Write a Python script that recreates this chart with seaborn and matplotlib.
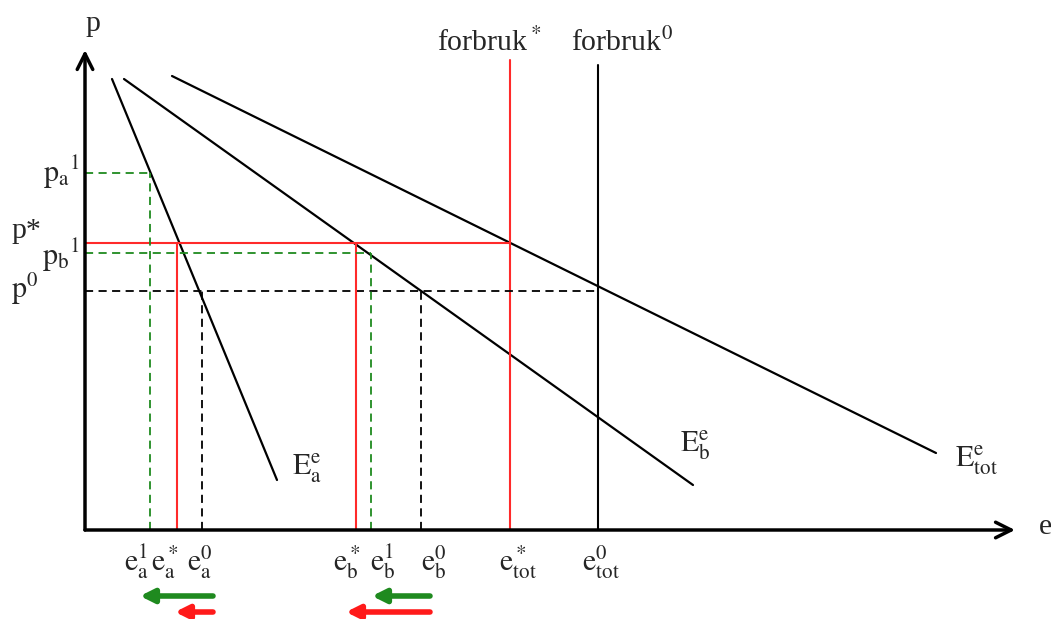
import numpy as np
import pandas as pd
import matplotlib
matplotlib.use('Agg')
import matplotlib.pyplot as plt
import seaborn as sns

# emission demand curves, (e, p) endpoints
curve_names = ['E_a', 'E_b', 'E_tot']
curve_e = [[2.7, 19.2], [3.9, 60.8], [8.7, 85.1]]
curve_p = [[45.1, 5.0], [45.1, 4.5], [45.4, 7.7]]
curve_labels = [r'$\mathrm{E^e_a}$', r'$\mathrm{E^e_b}$', r'$\mathrm{E^e_{tot}}$']

# price levels
p0 = 23.9
p_star = 28.7
pa1 = 35.7
pb1 = 27.7

# emission quantities
e0_a, e_star_a, e1_a = 11.7, 9.2, 6.5
e0_b, e_star_b, e1_b = 33.6, 27.1, 28.6
e0_tot, e_star_tot = 51.3, 42.5

e_tick_vals = [e1_a, e_star_a, e0_a, e_star_b, e1_b, e0_b, e_star_tot, e0_tot]
e_tick_labels = [r'$\mathrm{e^1_a}$', r'$\mathrm{e^*_a}$', r'$\mathrm{e^0_a}$',
                 r'$\mathrm{e^*_b}$', r'$\mathrm{e^1_b}$', r'$\mathrm{e^0_b}$',
                 r'$\mathrm{e^*_{tot}}$', r'$\mathrm{e^0_{tot}}$']

sns.set_theme(style='white')
plt.rcParams['font.family'] = ['Liberation Serif', 'DejaVu Serif']
plt.rcParams['mathtext.fontset'] = 'stix'

fig = plt.figure(figsize=(10.51, 6.19), dpi=100)
ax = fig.add_axes([0, 0, 1, 1])
ax.set_xlim(-8.5, 96.6)
ax.set_ylim(-8.9, 53.0)
ax.axis('off')

df = pd.DataFrame({
    'e': np.concatenate(curve_e),
    'p': np.concatenate(curve_p),
    'curve': np.repeat(curve_names, 2),
})
sns.lineplot(data=df, x='e', y='p', units='curve', estimator=None, sort=False,
             color='black', lw=1.6, ax=ax, legend=False)

fs = 21.5

# axes with arrows
ax.annotate('', xy=(93.0, 0), xytext=(0, 0),
            arrowprops=dict(arrowstyle='->', lw=2.5, color='black', mutation_scale=28, shrinkA=0, shrinkB=0))
ax.annotate('', xy=(0, 48.0), xytext=(0, 0),
            arrowprops=dict(arrowstyle='->', lw=2.5, color='black', mutation_scale=28, shrinkA=0, shrinkB=0))
ax.text(0.8, 50.6, 'p', fontsize=fs, ha='center', va='center')
ax.text(96.0, 0.3, 'e', fontsize=fs, ha='center', va='center')

# consumption lines
ax.plot([e_star_tot, e_star_tot], [0, 47.0], color='#ff2a2a', lw=1.5)
ax.plot([e0_tot, e0_tot], [0, 46.5], color='black', lw=1.5)
ax.text(e_star_tot - 2.1, 48.7, r'forbruk$^*$', fontsize=fs, ha='center', va='center')
ax.text(e0_tot + 2.4, 48.7, r'forbruk$^0$', fontsize=fs, ha='center', va='center')

# initial equilibrium (black dashed)
dash = (0, (4.5, 3))
ax.plot([0, e0_tot], [p0, p0], color='black', lw=1.3, linestyle=dash)
for ev in [e0_a, e0_b]:
    ax.plot([ev, ev], [0, p0], color='black', lw=1.3, linestyle=dash)

# new equilibrium (red)
ax.plot([0, e_star_tot], [p_star, p_star], color='#ff2a2a', lw=1.5)
for ev in [e_star_a, e_star_b]:
    ax.plot([ev, ev], [0, p_star], color='#ff2a2a', lw=1.5)

# green dashed
green = '#1f8a1f'
ax.plot([0, e1_a], [pa1, pa1], color=green, lw=1.3, linestyle=dash)
ax.plot([e1_a, e1_a], [0, pa1], color=green, lw=1.3, linestyle=dash)
ax.plot([0, e1_b], [pb1, pb1], color=green, lw=1.3, linestyle=dash)
ax.plot([e1_b, e1_b], [0, pb1], color=green, lw=1.3, linestyle=dash)

# price labels
ax.text(-0.5, pa1 + 0.1, r'$\mathrm{p_a{}^1}$', fontsize=fs, ha='right', va='center')
ax.text(-7.4, p_star + 1.2, 'p*', fontsize=fs, ha='left', va='center')
ax.text(-0.5, pb1 - 0.2, r'$\mathrm{p_b{}^1}$', fontsize=fs, ha='right', va='center')
ax.text(-7.4, p0 + 0.2, r'$\mathrm{p^0}$', fontsize=fs, ha='left', va='center')

# quantity labels
label_shift = [-1.3, -1.2, -0.2, -0.9, 1.2, 1.3, 0.8, 0.3]
for ev, lab, sh in zip(e_tick_vals, e_tick_labels, label_shift):
    ax.text(ev + sh, -3.2, lab, fontsize=fs, ha='center', va='center')

# curve labels
ax.text(20.7, 6.2, curve_labels[0], fontsize=fs, ha='left', va='center')
ax.text(59.5, 8.5, curve_labels[1], fontsize=fs, ha='left', va='center')
ax.text(87.0, 7.0, curve_labels[2], fontsize=fs, ha='left', va='center')

# shift arrows
def shift_arrow(x0, x1, y, color):
    ax.annotate('', xy=(x1, y), xytext=(x0, y),
                arrowprops=dict(arrowstyle='-|>', lw=4, color=color, mutation_scale=20,
                                shrinkA=0, shrinkB=0))

shift_arrow(e0_a + 1.1, e1_a - 1.0, -6.6, green)
shift_arrow(e0_a + 1.1, e_star_a - 0.2, -8.2, '#ff1a1a')
shift_arrow(e0_b + 0.9, e1_b + 0.1, -6.6, green)
shift_arrow(e0_b + 0.9, e_star_b - 1.0, -8.2, '#ff1a1a')

fig.savefig('out.png', dpi=100)
